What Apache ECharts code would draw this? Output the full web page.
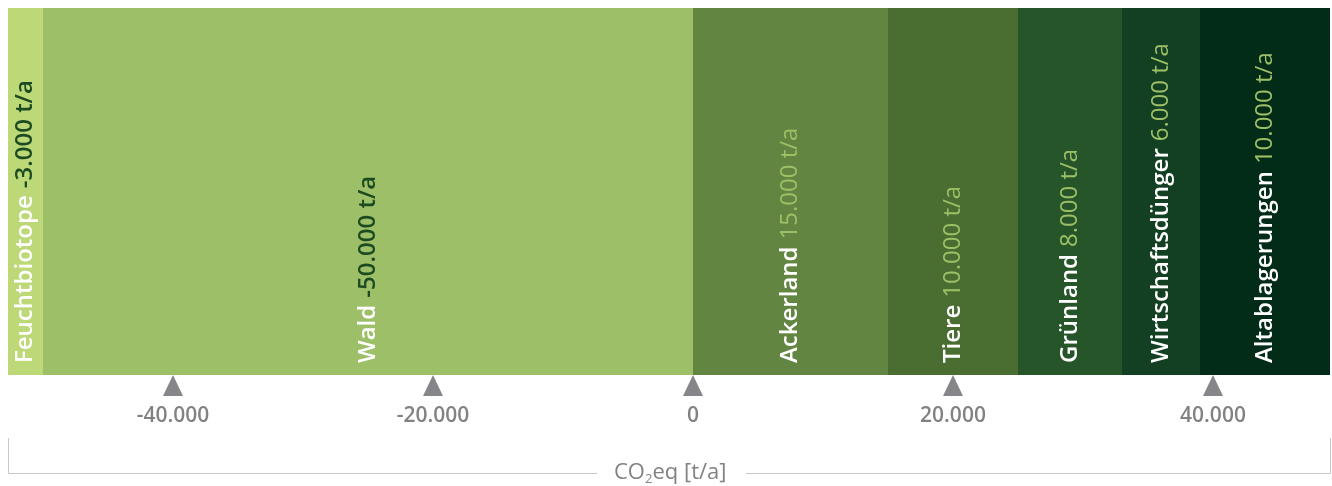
<!DOCTYPE html>
<html>
<head>
<meta charset="utf-8">
<title>CO2eq Bilanz</title>
<script src="https://cdn.jsdelivr.net/npm/echarts@6/dist/echarts.min.js"></script>
<style>
  html, body { margin: 0; padding: 0; background: #ffffff; }
  #chart { width: 1332px; height: 486px; }
</style>
</head>
<body>
<div id="chart"></div>
<script>
// Emission sources / sinks in t CO2eq per year
const categories = ['Feuchtbiotope', 'Wald', 'Ackerland', 'Tiere', 'Grünland', 'Wirtschaftsdünger', 'Altablagerungen'];
const values = [-3000, -50000, 15000, 10000, 8000, 6000, 10000];
const tickValues = [-40000, -20000, 0, 20000, 40000];

// Fill colours, light (sinks) to dark (largest sources)
const palette = ['#bdd877', '#9dbf67', '#628641', '#4a6e31', '#27552a', '#134023', '#032c18'];
const valueColorOnLight = '#1c4b22';
const valueColorOnDark = '#9dc067';
const greyText = '#828282';

// Plot area is 1324 px wide; 13 px per 1000 t keeps segment edges on whole pixels
const GRID_LEFT = 8;
const GRID_WIDTH = 1324;
const PX_PER_T = 0.013;
const X_MIN = -685 / PX_PER_T;
const X_MAX = X_MIN + GRID_WIDTH / PX_PER_T;
const FONT = "'Open Sans', 'Noto Sans', sans-serif";

function fmt(v) {
  const s = String(Math.abs(v)).replace(/\B(?=(\d{3})+(?!\d))/g, '.');
  return (v < 0 ? '-' : '') + s;
}

// Stacking order: negatives build outward from zero, so walk them in reverse
const negIdx = categories.map((_, i) => i).filter(i => values[i] < 0).reverse();
const posIdx = categories.map((_, i) => i).filter(i => values[i] >= 0);
const order = negIdx.concat(posIdx);

const barSeries = order.map(i => ({
  name: categories[i],
  type: 'bar',
  stack: 'bilanz',
  xAxisIndex: 0,
  yAxisIndex: 0,
  barWidth: '100%',
  silent: true,
  itemStyle: { color: palette[i] },
  label: {
    show: true,
    position: ['50%', 355],
    rotate: 90,
    align: 'left',
    verticalAlign: 'middle',
    formatter: () => '{n|' + categories[i] + '}{v|' + fmt(values[i]) + ' t/a}',
    rich: {
      n: { color: '#ffffff', fontFamily: FONT, fontSize: 24, fontWeight: 600 },
      v: {
        color: values[i] < 0 ? valueColorOnLight : valueColorOnDark,
        fontFamily: FONT, fontSize: 24,
        fontWeight: values[i] < 0 ? 600 : 500,
        padding: [0, 0, 0, 7]
      }
    }
  },
  data: [values[i]]
}));

const tickSeries = {
  type: 'scatter',
  xAxisIndex: 1,
  yAxisIndex: 1,
  symbol: 'triangle',
  symbolSize: [20, 21],
  silent: true,
  itemStyle: { color: '#86868a', opacity: 1 },
  data: tickValues.map(v => [v, 0.5])
};

const chart = echarts.init(document.getElementById('chart'), null, { renderer: 'canvas' });
chart.setOption({
  animation: false,
  backgroundColor: '#ffffff',
  grid: [
    { left: GRID_LEFT, width: GRID_WIDTH, top: 8, height: 367 },
    { left: GRID_LEFT, width: GRID_WIDTH, top: 375, height: 21 }
  ],
  xAxis: [
    {
      gridIndex: 0, type: 'value', min: X_MIN, max: X_MAX,
      axisLine: { show: false }, axisTick: { show: false },
      axisLabel: { show: false }, splitLine: { show: false }
    },
    {
      gridIndex: 1, type: 'value', min: X_MIN, max: X_MAX,
      axisLine: { show: false }, axisTick: { show: false }, splitLine: { show: false },
      axisLabel: {
        customValues: tickValues,
        margin: 10,
        color: greyText,
        fontFamily: FONT,
        fontSize: 21,
        fontWeight: 600,
        formatter: v => fmt(v)
      }
    }
  ],
  yAxis: [
    { gridIndex: 0, type: 'category', data: ['CO₂eq'], show: false },
    { gridIndex: 1, type: 'value', min: 0, max: 1, show: false }
  ],
  series: barSeries.concat([tickSeries]),
  graphic: [
    {
      type: 'polyline', silent: true,
      shape: { points: [[8.5, 438], [8.5, 473.5], [597, 473.5]] },
      style: { stroke: '#c8c8c8', lineWidth: 1, fill: null }
    },
    {
      type: 'polyline', silent: true,
      shape: { points: [[746, 473.5], [1330.5, 473.5], [1330.5, 438]] },
      style: { stroke: '#c8c8c8', lineWidth: 1, fill: null }
    },
    {
      type: 'text', silent: true,
      left: 614, top: 462,
      style: {
        text: '{a|CO}{s|2}{a|eq [t/a]}',
        fill: greyText,
        rich: {
          a: { fontFamily: FONT, fontSize: 22, fontWeight: 'normal', fill: greyText, lineHeight: 26 },
          s: { fontFamily: FONT, fontSize: 13, fontWeight: 'normal', fill: greyText, lineHeight: 12, verticalAlign: 'bottom' }
        }
      }
    }
  ]
});
</script>
</body>
</html>
